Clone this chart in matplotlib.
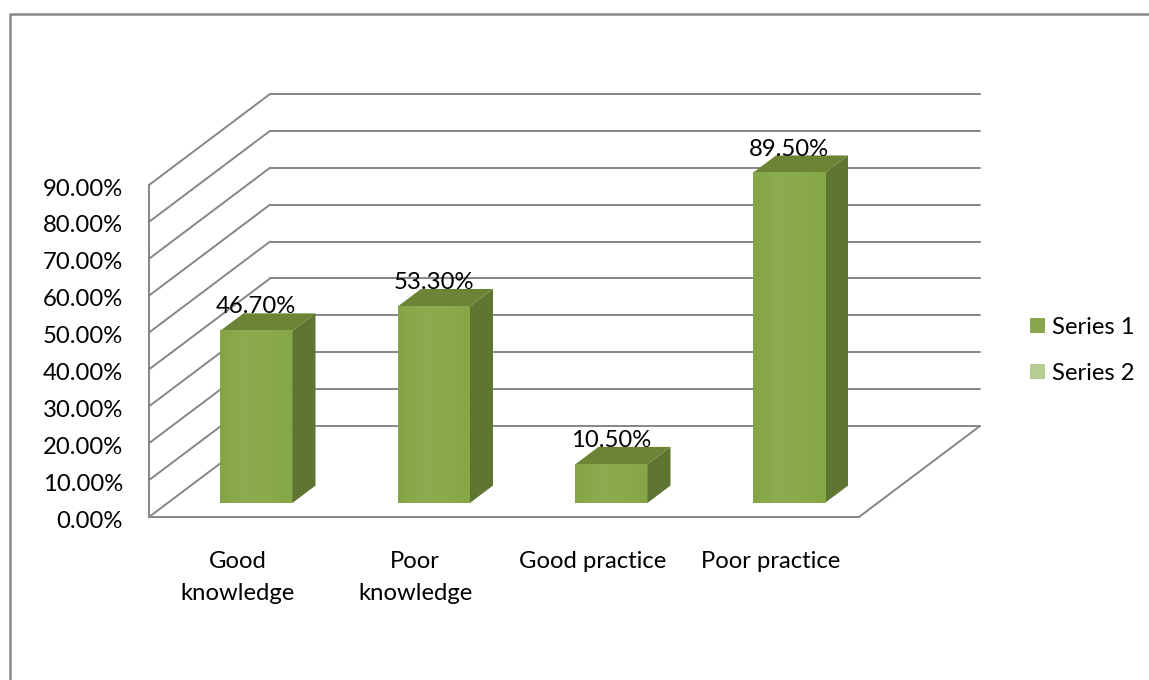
import numpy as np
import matplotlib
matplotlib.use('Agg')
import matplotlib.pyplot as plt
from matplotlib.colors import LinearSegmentedColormap
from matplotlib.lines import Line2D
from matplotlib.patches import Patch, Polygon

plt.rcParams['font.family'] = ['Lato', 'DejaVu Sans']

# Datos del grafico
categories = ['Good\nknowledge', 'Poor\nknowledge', 'Good practice', 'Poor practice']
series_1 = [46.7, 53.3, 10.5, 89.5]
bar_labels = ['46.70%', '53.30%', '10.50%', '89.50%']
ticks = [0, 10, 20, 30, 40, 50, 60, 70, 80, 90]
legend_names = ['Series 1', 'Series 2']

W, H = 1149, 680
GRAY = '#868686'
FS = 17.2

fig = plt.figure(figsize=(W / 100, H / 100), dpi=100)
# Plano frontal de la caja 3D
ax = fig.add_axes([149 / W, 1 - 517 / H, 710 / W, 332 / H])
ax.set_xlim(-0.5, 3.5)
ax.set_ylim(0, 90)
ax.axis('off')

# Desplazamiento de profundidad en unidades de datos
DX = 121 / 177.5
DY = 91 / (332 / 90)


def pt(x, v, d=0.0):
    return (x + d * DX, v + d * DY)


def line(p, q, zorder=1):
    ax.plot([p[0], q[0]], [p[1], q[1]], color=GRAY, lw=1.4, clip_on=False,
            solid_capstyle='round', zorder=zorder)


# Paredes y suelo
for t in ticks:
    line(pt(-0.5, t), pt(-0.5, t, 1))
    line(pt(-0.5, t, 1), pt(3.5, t, 1))
    ax.text(-0.5 - 0.146, t - 1.1, '%.2f%%' % t, ha='right', va='center', fontsize=FS,
            color='black', clip_on=False)
line(pt(-0.5, 0), pt(-0.5, 90))
line(pt(-0.5, 0), pt(3.5, 0), zorder=6)
line(pt(3.5, 0), pt(3.5, 0, 1), zorder=6)

# Barras
front_cmap = LinearSegmentedColormap.from_list('front', ['#84a544', '#8dab50', '#8aaa4b', '#86a746'])
D0, D1 = 0.152, 0.345
half = 72 / 177.5 / 2
for i, v in enumerate(series_1):
    x0, x1 = i - half, i + half
    a = pt(x0, 0, D0)
    b = pt(x1, v, D0)
    ax.imshow(np.linspace(0, 1, 64).reshape(1, -1), cmap=front_cmap, aspect='auto',
              extent=(a[0], b[0], a[1], b[1]), zorder=4, clip_on=False)
    side = Polygon([pt(x1, 0, D0), pt(x1, 0, D1), pt(x1, v, D1), pt(x1, v, D0)],
                   fc='#5e7631', ec='none', zorder=3, clip_on=False)
    top = Polygon([pt(x0, v, D0), pt(x0, v, D1), pt(x1, v, D1), pt(x1, v, D0)],
                  fc='#6d8436', ec='none', zorder=3, clip_on=False)
    ax.add_patch(side)
    ax.add_patch(top)
    ax.text(pt(i, v, D0)[0], pt(i, v, D0)[1] + 6.5, bar_labels[i], ha='center', va='center',
            fontsize=FS, color='black', zorder=7, clip_on=False)
ax.set_xlim(-0.5, 3.5)
ax.set_ylim(0, 90)

# Etiquetas de categoria
for i, c in enumerate(categories):
    ax.text(i, -9.1, c, ha='center', va='top', fontsize=FS, linespacing=1.7, clip_on=False)

# Leyenda
handles = [Patch(fc='#8aa64e', ec='none'), Patch(fc='#b6cd92', ec='none')]
fig.legend(handles, legend_names, loc='center left', bbox_to_anchor=(1030 / W, 1 - 350.5 / H),
           frameon=False, fontsize=FS, handlelength=0.63, handleheight=0.63,
           handletextpad=0.27, labelspacing=1.05, borderpad=0, borderaxespad=0)

# Marco exterior
fig.add_artist(Line2D([10 / W, 10 / W, 1], [0, 1 - 14 / H, 1 - 14 / H], color=GRAY, lw=1.8))

fig.savefig('out.png', dpi=100)
